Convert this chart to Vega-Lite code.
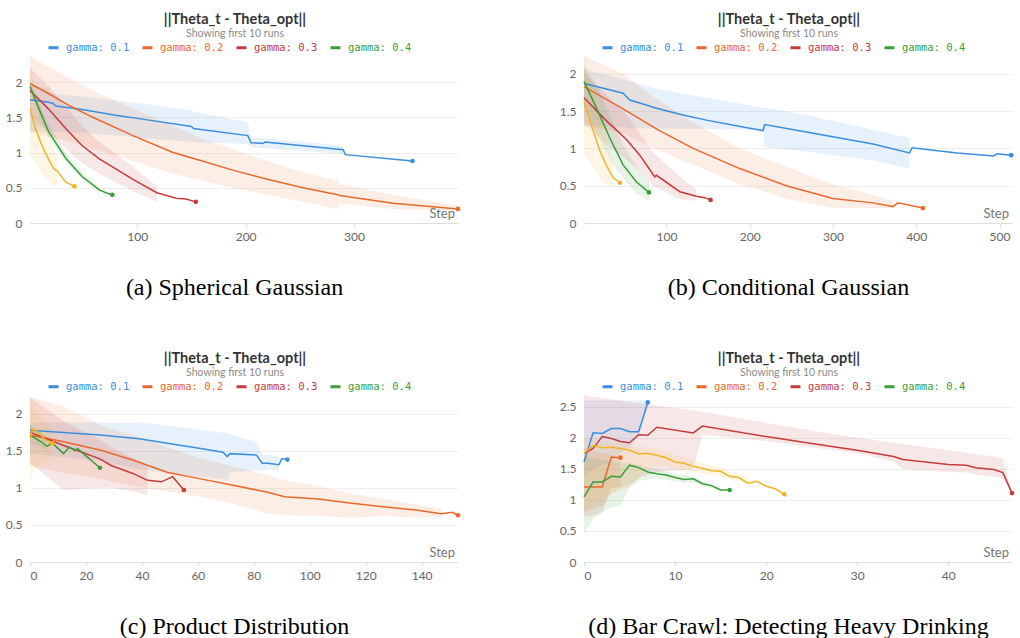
{
  "$schema": "https://vega.github.io/schema/vega-lite/v6.json",
  "background": "white",
  "padding": {"left": 5, "top": 12, "right": 5, "bottom": 0},
  "config": {
    "view": {"stroke": null},
    "title": {"font": "Lato", "fontSize": 14.5, "fontWeight": "bold", "color": "#333333", "subtitleFont": "Lato", "subtitleFontSize": 10.5, "subtitleColor": "#8a8a8a", "anchor": "middle", "offset": 1, "subtitlePadding": 1, "dx": -9},
    "axis": {"labelFont": "Lato", "labelFontSize": 12, "labelColor": "#666666", "gridColor": "#eeeeee", "domain": false, "ticks": false, "titleFont": "Liberation Serif", "titleFontSize": 24, "titleFontWeight": "normal", "titleColor": "#000000", "labelOverlap": false},
    "legend": {"labelFont": "DejaVu Sans Mono", "labelFontSize": 10.5}
  },
  "datasets": {
    "runs": [
      {"p":"a","g":"gamma: 0.1","x":1,"y":1.75,"lo":1.3,"hi":1.95},
      {"p":"a","g":"gamma: 0.1","x":15,"y":1.72,"lo":1.3,"hi":1.92},
      {"p":"a","g":"gamma: 0.1","x":22,"y":1.7,"lo":1.3,"hi":1.84},
      {"p":"a","g":"gamma: 0.1","x":25,"y":1.66,"lo":1.3,"hi":1.83},
      {"p":"a","g":"gamma: 0.1","x":49,"y":1.61,"lo":1.28,"hi":1.79},
      {"p":"a","g":"gamma: 0.1","x":80,"y":1.53,"lo":1.24,"hi":1.74},
      {"p":"a","g":"gamma: 0.1","x":111,"y":1.46,"lo":1.2,"hi":1.68},
      {"p":"a","g":"gamma: 0.1","x":150,"y":1.37,"lo":1.15,"hi":1.6},
      {"p":"a","g":"gamma: 0.1","x":152,"y":1.34,"lo":1.15,"hi":1.58},
      {"p":"a","g":"gamma: 0.1","x":202,"y":1.24,"lo":1.12,"hi":1.43},
      {"p":"a","g":"gamma: 0.1","x":205,"y":1.14,"lo":1.07,"hi":1.22},
      {"p":"a","g":"gamma: 0.1","x":216,"y":1.13,"lo":1.06,"hi":1.2},
      {"p":"a","g":"gamma: 0.1","x":218,"y":1.15,"lo":1.06,"hi":1.2},
      {"p":"a","g":"gamma: 0.1","x":290,"y":1.04,"lo":0.98,"hi":1.1},
      {"p":"a","g":"gamma: 0.1","x":292,"y":0.97},
      {"p":"a","g":"gamma: 0.1","x":354,"y":0.88},

      {"p":"a","g":"gamma: 0.2","x":1,"y":1.98,"lo":1.3,"hi":2.37},
      {"p":"a","g":"gamma: 0.2","x":20,"y":1.82,"lo":1.22,"hi":2.2},
      {"p":"a","g":"gamma: 0.2","x":38,"y":1.66,"lo":1.15,"hi":2.05},
      {"p":"a","g":"gamma: 0.2","x":59,"y":1.5,"lo":1.05,"hi":1.88},
      {"p":"a","g":"gamma: 0.2","x":96,"y":1.24,"lo":0.88,"hi":1.62},
      {"p":"a","g":"gamma: 0.2","x":133,"y":1.0,"lo":0.7,"hi":1.38},
      {"p":"a","g":"gamma: 0.2","x":160,"y":0.88,"lo":0.6,"hi":1.2},
      {"p":"a","g":"gamma: 0.2","x":188,"y":0.75,"lo":0.5,"hi":1.05},
      {"p":"a","g":"gamma: 0.2","x":220,"y":0.62,"lo":0.4,"hi":0.88},
      {"p":"a","g":"gamma: 0.2","x":253,"y":0.5,"lo":0.3,"hi":0.72},
      {"p":"a","g":"gamma: 0.2","x":285,"y":0.4,"lo":0.2,"hi":0.6},
      {"p":"a","g":"gamma: 0.2","x":287,"y":0.39,"lo":0.28,"hi":0.55},
      {"p":"a","g":"gamma: 0.2","x":336,"y":0.28,"lo":0.2,"hi":0.4},
      {"p":"a","g":"gamma: 0.2","x":396,"y":0.2,"lo":0.18,"hi":0.24},

      {"p":"a","g":"gamma: 0.3","x":1,"y":1.88,"lo":1.5,"hi":2.2},
      {"p":"a","g":"gamma: 0.3","x":18,"y":1.62,"lo":1.3,"hi":1.95},
      {"p":"a","g":"gamma: 0.3","x":34,"y":1.34,"lo":1.05,"hi":1.65},
      {"p":"a","g":"gamma: 0.3","x":49,"y":1.1,"lo":0.85,"hi":1.38},
      {"p":"a","g":"gamma: 0.3","x":65,"y":0.91,"lo":0.7,"hi":1.15},
      {"p":"a","g":"gamma: 0.3","x":96,"y":0.62,"lo":0.45,"hi":0.8},
      {"p":"a","g":"gamma: 0.3","x":118,"y":0.43,"lo":0.3,"hi":0.52},
      {"p":"a","g":"gamma: 0.3","x":136,"y":0.35},
      {"p":"a","g":"gamma: 0.3","x":145,"y":0.34},
      {"p":"a","g":"gamma: 0.3","x":154,"y":0.3},

      {"p":"a","g":"gamma: 0.4","x":1,"y":1.94,"lo":1.85,"hi":2.02},
      {"p":"a","g":"gamma: 0.4","x":9,"y":1.63,"lo":1.55,"hi":1.72},
      {"p":"a","g":"gamma: 0.4","x":18,"y":1.3,"lo":1.22,"hi":1.4},
      {"p":"a","g":"gamma: 0.4","x":34,"y":0.92,"lo":0.86,"hi":1.0},
      {"p":"a","g":"gamma: 0.4","x":49,"y":0.66,"lo":0.62,"hi":0.72},
      {"p":"a","g":"gamma: 0.4","x":65,"y":0.47,"lo":0.44,"hi":0.5},
      {"p":"a","g":"gamma: 0.4","x":71,"y":0.43},
      {"p":"a","g":"gamma: 0.4","x":77,"y":0.4},

      {"p":"a","g":"gamma: 0.5","x":1,"y":1.63,"lo":0.97,"hi":2.2},
      {"p":"a","g":"gamma: 0.5","x":6,"y":1.34,"lo":0.85,"hi":1.9},
      {"p":"a","g":"gamma: 0.5","x":12,"y":1.1,"lo":0.7,"hi":1.6},
      {"p":"a","g":"gamma: 0.5","x":18,"y":0.91,"lo":0.6,"hi":1.3},
      {"p":"a","g":"gamma: 0.5","x":23,"y":0.77,"lo":0.5,"hi":1.05},
      {"p":"a","g":"gamma: 0.5","x":26,"y":0.74,"lo":0.55,"hi":0.9},
      {"p":"a","g":"gamma: 0.5","x":34,"y":0.58},
      {"p":"a","g":"gamma: 0.5","x":42,"y":0.52},

      {"p":"b","g":"gamma: 0.1","x":1,"y":1.87,"lo":1.3,"hi":2.07},
      {"p":"b","g":"gamma: 0.1","x":16,"y":1.83,"lo":1.3,"hi":2.02},
      {"p":"b","g":"gamma: 0.1","x":48,"y":1.74,"lo":1.28,"hi":1.93},
      {"p":"b","g":"gamma: 0.1","x":56,"y":1.65,"lo":1.27,"hi":1.9},
      {"p":"b","g":"gamma: 0.1","x":68,"y":1.61,"lo":1.27,"hi":1.86},
      {"p":"b","g":"gamma: 0.1","x":88,"y":1.54,"lo":1.27,"hi":1.8},
      {"p":"b","g":"gamma: 0.1","x":120,"y":1.45,"lo":1.26,"hi":1.73},
      {"p":"b","g":"gamma: 0.1","x":148,"y":1.38,"lo":1.26,"hi":1.68},
      {"p":"b","g":"gamma: 0.1","x":200,"y":1.27,"lo":1.25,"hi":1.58},
      {"p":"b","g":"gamma: 0.1","x":216,"y":1.24,"lo":1.25,"hi":1.55},
      {"p":"b","g":"gamma: 0.1","x":218,"y":1.32,"lo":1.02,"hi":1.55},
      {"p":"b","g":"gamma: 0.1","x":268,"y":1.22,"lo":0.96,"hi":1.45},
      {"p":"b","g":"gamma: 0.1","x":348,"y":1.06,"lo":0.84,"hi":1.25},
      {"p":"b","g":"gamma: 0.1","x":392,"y":0.94,"lo":0.73,"hi":1.14},
      {"p":"b","g":"gamma: 0.1","x":395,"y":1.01},
      {"p":"b","g":"gamma: 0.1","x":449,"y":0.94},
      {"p":"b","g":"gamma: 0.1","x":493,"y":0.9},
      {"p":"b","g":"gamma: 0.1","x":497,"y":0.93},
      {"p":"b","g":"gamma: 0.1","x":514,"y":0.91},

      {"p":"b","g":"gamma: 0.2","x":1,"y":1.83,"lo":1.3,"hi":2.24},
      {"p":"b","g":"gamma: 0.2","x":48,"y":1.53,"lo":1.2,"hi":2.0},
      {"p":"b","g":"gamma: 0.2","x":90,"y":1.25,"lo":0.98,"hi":1.65},
      {"p":"b","g":"gamma: 0.2","x":132,"y":1.0,"lo":0.78,"hi":1.35},
      {"p":"b","g":"gamma: 0.2","x":188,"y":0.73,"lo":0.52,"hi":1.0},
      {"p":"b","g":"gamma: 0.2","x":244,"y":0.5,"lo":0.33,"hi":0.75},
      {"p":"b","g":"gamma: 0.2","x":300,"y":0.33,"lo":0.2,"hi":0.52},
      {"p":"b","g":"gamma: 0.2","x":348,"y":0.27,"lo":0.2,"hi":0.38},
      {"p":"b","g":"gamma: 0.2","x":372,"y":0.22,"lo":0.2,"hi":0.3},
      {"p":"b","g":"gamma: 0.2","x":378,"y":0.27},
      {"p":"b","g":"gamma: 0.2","x":408,"y":0.2},

      {"p":"b","g":"gamma: 0.3","x":1,"y":1.68,"lo":1.35,"hi":2.02},
      {"p":"b","g":"gamma: 0.3","x":28,"y":1.37,"lo":1.05,"hi":1.72},
      {"p":"b","g":"gamma: 0.3","x":52,"y":1.12,"lo":0.85,"hi":1.45},
      {"p":"b","g":"gamma: 0.3","x":68,"y":0.91,"lo":0.7,"hi":1.2},
      {"p":"b","g":"gamma: 0.3","x":84,"y":0.65,"lo":0.5,"hi":0.95},
      {"p":"b","g":"gamma: 0.3","x":86,"y":0.62},
      {"p":"b","g":"gamma: 0.3","x":88,"y":0.64},
      {"p":"b","g":"gamma: 0.3","x":116,"y":0.42,"lo":0.32,"hi":0.62},
      {"p":"b","g":"gamma: 0.3","x":136,"y":0.36,"lo":0.3,"hi":0.45},
      {"p":"b","g":"gamma: 0.3","x":146,"y":0.34},
      {"p":"b","g":"gamma: 0.3","x":153,"y":0.31},

      {"p":"b","g":"gamma: 0.4","x":1,"y":1.9,"lo":1.55,"hi":2.1},
      {"p":"b","g":"gamma: 0.4","x":16,"y":1.54,"lo":1.2,"hi":1.85},
      {"p":"b","g":"gamma: 0.4","x":32,"y":1.14,"lo":0.85,"hi":1.45},
      {"p":"b","g":"gamma: 0.4","x":48,"y":0.78,"lo":0.6,"hi":1.05},
      {"p":"b","g":"gamma: 0.4","x":64,"y":0.55,"lo":0.4,"hi":0.75},
      {"p":"b","g":"gamma: 0.4","x":79,"y":0.41,"lo":0.3,"hi":0.55},

      {"p":"b","g":"gamma: 0.5","x":1,"y":1.63,"lo":0.93,"hi":2.2},
      {"p":"b","g":"gamma: 0.5","x":12,"y":1.24,"lo":0.75,"hi":1.8},
      {"p":"b","g":"gamma: 0.5","x":20,"y":0.97,"lo":0.6,"hi":1.45},
      {"p":"b","g":"gamma: 0.5","x":28,"y":0.77,"lo":0.5,"hi":1.1},
      {"p":"b","g":"gamma: 0.5","x":36,"y":0.61,"lo":0.5,"hi":0.8},
      {"p":"b","g":"gamma: 0.5","x":44,"y":0.54},

      {"p":"c","g":"gamma: 0.1","x":0,"y":1.775,"lo":1.46,"hi":1.88},
      {"p":"c","g":"gamma: 0.1","x":25,"y":1.71,"lo":1.36,"hi":1.88},
      {"p":"c","g":"gamma: 0.1","x":39,"y":1.66,"lo":1.25,"hi":1.88},
      {"p":"c","g":"gamma: 0.1","x":49,"y":1.6,"lo":1.2,"hi":1.84},
      {"p":"c","g":"gamma: 0.1","x":61,"y":1.53,"lo":1.15,"hi":1.78},
      {"p":"c","g":"gamma: 0.1","x":69,"y":1.48,"lo":1.12,"hi":1.74},
      {"p":"c","g":"gamma: 0.1","x":70.5,"y":1.42,"lo":1.1,"hi":1.73},
      {"p":"c","g":"gamma: 0.1","x":71.5,"y":1.46,"lo":1.21,"hi":1.72},
      {"p":"c","g":"gamma: 0.1","x":81,"y":1.44,"lo":1.23,"hi":1.62},
      {"p":"c","g":"gamma: 0.1","x":83,"y":1.33,"lo":1.24,"hi":1.46},
      {"p":"c","g":"gamma: 0.1","x":85,"y":1.33,"lo":1.24,"hi":1.44},
      {"p":"c","g":"gamma: 0.1","x":89,"y":1.31,"lo":1.24,"hi":1.42},
      {"p":"c","g":"gamma: 0.1","x":90,"y":1.39},
      {"p":"c","g":"gamma: 0.1","x":92,"y":1.38},

      {"p":"c","g":"gamma: 0.2","x":0,"y":1.71,"lo":1.3,"hi":2.22},
      {"p":"c","g":"gamma: 0.2","x":12,"y":1.62,"lo":1.2,"hi":2.1},
      {"p":"c","g":"gamma: 0.2","x":25,"y":1.51,"lo":1.12,"hi":1.85},
      {"p":"c","g":"gamma: 0.2","x":37,"y":1.37,"lo":1.02,"hi":1.7},
      {"p":"c","g":"gamma: 0.2","x":49,"y":1.21,"lo":0.95,"hi":1.55},
      {"p":"c","g":"gamma: 0.2","x":61,"y":1.12,"lo":0.88,"hi":1.4},
      {"p":"c","g":"gamma: 0.2","x":73,"y":1.03,"lo":0.78,"hi":1.28},
      {"p":"c","g":"gamma: 0.2","x":85,"y":0.94,"lo":0.65,"hi":1.17},
      {"p":"c","g":"gamma: 0.2","x":91,"y":0.88,"lo":0.63,"hi":1.1},
      {"p":"c","g":"gamma: 0.2","x":103,"y":0.85,"lo":0.62,"hi":1.02},
      {"p":"c","g":"gamma: 0.2","x":115,"y":0.79,"lo":0.6,"hi":0.92},
      {"p":"c","g":"gamma: 0.2","x":127,"y":0.74,"lo":0.62,"hi":0.85},
      {"p":"c","g":"gamma: 0.2","x":138,"y":0.7,"lo":0.6,"hi":0.77},
      {"p":"c","g":"gamma: 0.2","x":147,"y":0.65,"lo":0.6,"hi":0.72},
      {"p":"c","g":"gamma: 0.2","x":151,"y":0.67},
      {"p":"c","g":"gamma: 0.2","x":153,"y":0.63},

      {"p":"c","g":"gamma: 0.3","x":0,"y":1.75,"lo":1.33,"hi":2.22},
      {"p":"c","g":"gamma: 0.3","x":12,"y":1.57,"lo":0.97,"hi":1.9},
      {"p":"c","g":"gamma: 0.3","x":25,"y":1.39,"lo":1.0,"hi":1.65},
      {"p":"c","g":"gamma: 0.3","x":29,"y":1.3,"lo":1.0,"hi":1.55},
      {"p":"c","g":"gamma: 0.3","x":37,"y":1.19,"lo":0.95,"hi":1.4},
      {"p":"c","g":"gamma: 0.3","x":42,"y":1.1,"lo":0.9,"hi":1.3},
      {"p":"c","g":"gamma: 0.3","x":47,"y":1.08},
      {"p":"c","g":"gamma: 0.3","x":51,"y":1.15},
      {"p":"c","g":"gamma: 0.3","x":55,"y":0.97},

      {"p":"c","g":"gamma: 0.4","x":0,"y":1.71,"lo":1.6,"hi":1.85},
      {"p":"c","g":"gamma: 0.4","x":4,"y":1.62,"lo":1.55,"hi":1.75},
      {"p":"c","g":"gamma: 0.4","x":6,"y":1.56,"lo":1.5,"hi":1.68},
      {"p":"c","g":"gamma: 0.4","x":8,"y":1.6},
      {"p":"c","g":"gamma: 0.4","x":12,"y":1.46},
      {"p":"c","g":"gamma: 0.4","x":14,"y":1.55},
      {"p":"c","g":"gamma: 0.4","x":16,"y":1.5},
      {"p":"c","g":"gamma: 0.4","x":17,"y":1.53},
      {"p":"c","g":"gamma: 0.4","x":20,"y":1.43},
      {"p":"c","g":"gamma: 0.4","x":25,"y":1.27},

      {"p":"c","g":"gamma: 0.5","x":0,"y":1.67,"lo":1.0,"hi":2.2},
      {"p":"c","g":"gamma: 0.5","x":1,"y":1.79,"lo":1.2,"hi":2.1},
      {"p":"c","g":"gamma: 0.5","x":3,"y":1.75,"lo":1.3,"hi":2.0},
      {"p":"c","g":"gamma: 0.5","x":5,"y":1.66,"lo":1.35,"hi":1.9},
      {"p":"c","g":"gamma: 0.5","x":8,"y":1.6,"lo":1.4,"hi":1.8},

      {"p":"d","g":"gamma: 0.1","x":0,"y":1.61,"lo":1.4,"hi":2.6},
      {"p":"d","g":"gamma: 0.1","x":1,"y":2.08,"lo":1.5,"hi":2.6},
      {"p":"d","g":"gamma: 0.1","x":2,"y":2.07,"lo":1.55,"hi":2.6},
      {"p":"d","g":"gamma: 0.1","x":3,"y":2.15,"lo":1.6,"hi":2.6},
      {"p":"d","g":"gamma: 0.1","x":4,"y":2.15,"lo":1.75,"hi":2.6},
      {"p":"d","g":"gamma: 0.1","x":5,"y":2.1,"lo":1.85,"hi":2.6},
      {"p":"d","g":"gamma: 0.1","x":6,"y":2.1,"lo":2.0,"hi":2.6},
      {"p":"d","g":"gamma: 0.1","x":7,"y":2.57,"lo":2.5,"hi":2.6},

      {"p":"d","g":"gamma: 0.2","x":0,"y":1.21,"lo":0.8,"hi":1.85},
      {"p":"d","g":"gamma: 0.2","x":1,"y":1.21,"lo":0.85,"hi":1.8},
      {"p":"d","g":"gamma: 0.2","x":2,"y":1.21,"lo":0.9,"hi":1.75},
      {"p":"d","g":"gamma: 0.2","x":3,"y":1.69,"lo":1.1,"hi":1.72},
      {"p":"d","g":"gamma: 0.2","x":4,"y":1.68,"lo":1.2,"hi":1.7},

      {"p":"d","g":"gamma: 0.3","x":0,"y":1.75,"lo":0.73,"hi":2.69},
      {"p":"d","g":"gamma: 0.3","x":1,"y":1.83,"lo":0.75,"hi":2.66},
      {"p":"d","g":"gamma: 0.3","x":2,"y":2.02,"lo":0.8,"hi":2.64},
      {"p":"d","g":"gamma: 0.3","x":3,"y":1.99,"lo":1.2,"hi":2.62},
      {"p":"d","g":"gamma: 0.3","x":4,"y":1.94,"lo":1.2,"hi":2.6},
      {"p":"d","g":"gamma: 0.3","x":5,"y":1.92,"lo":1.25,"hi":2.58},
      {"p":"d","g":"gamma: 0.3","x":6,"y":2.05,"lo":1.35,"hi":2.56},
      {"p":"d","g":"gamma: 0.3","x":7,"y":2.04,"lo":1.4,"hi":2.54},
      {"p":"d","g":"gamma: 0.3","x":8,"y":2.17,"lo":1.45,"hi":2.52},
      {"p":"d","g":"gamma: 0.3","x":12,"y":2.08,"lo":1.5,"hi":2.44},
      {"p":"d","g":"gamma: 0.3","x":13,"y":2.19,"lo":2.05,"hi":2.42},
      {"p":"d","g":"gamma: 0.3","x":20,"y":2.02,"lo":1.95,"hi":2.24},
      {"p":"d","g":"gamma: 0.3","x":25,"y":1.91,"lo":1.85,"hi":2.12},
      {"p":"d","g":"gamma: 0.3","x":30,"y":1.8,"lo":1.75,"hi":2.0},
      {"p":"d","g":"gamma: 0.3","x":34,"y":1.7,"lo":1.62,"hi":1.92},
      {"p":"d","g":"gamma: 0.3","x":35,"y":1.65,"lo":1.5,"hi":1.9},
      {"p":"d","g":"gamma: 0.3","x":40,"y":1.57,"lo":1.45,"hi":1.8},
      {"p":"d","g":"gamma: 0.3","x":42,"y":1.56,"lo":1.44,"hi":1.76},
      {"p":"d","g":"gamma: 0.3","x":43,"y":1.52,"lo":1.4,"hi":1.74},
      {"p":"d","g":"gamma: 0.3","x":45,"y":1.49,"lo":1.38,"hi":1.7},
      {"p":"d","g":"gamma: 0.3","x":46,"y":1.44,"lo":1.35,"hi":1.67},
      {"p":"d","g":"gamma: 0.3","x":47,"y":1.11,"lo":1.1,"hi":1.12},

      {"p":"d","g":"gamma: 0.4","x":0,"y":1.05,"lo":0.45,"hi":1.7},
      {"p":"d","g":"gamma: 0.4","x":1,"y":1.29,"lo":0.7,"hi":1.68},
      {"p":"d","g":"gamma: 0.4","x":2,"y":1.29,"lo":0.8,"hi":1.65},
      {"p":"d","g":"gamma: 0.4","x":3,"y":1.38,"lo":0.88,"hi":1.62},
      {"p":"d","g":"gamma: 0.4","x":4,"y":1.37,"lo":0.9,"hi":1.6},
      {"p":"d","g":"gamma: 0.4","x":5,"y":1.56,"lo":1.2,"hi":1.6},
      {"p":"d","g":"gamma: 0.4","x":6,"y":1.52,"lo":1.3,"hi":1.56},
      {"p":"d","g":"gamma: 0.4","x":7,"y":1.45,"lo":1.33,"hi":1.52},
      {"p":"d","g":"gamma: 0.4","x":8,"y":1.42,"lo":1.35,"hi":1.5},
      {"p":"d","g":"gamma: 0.4","x":9,"y":1.4,"lo":1.33,"hi":1.46},
      {"p":"d","g":"gamma: 0.4","x":10,"y":1.36,"lo":1.3,"hi":1.42},
      {"p":"d","g":"gamma: 0.4","x":11,"y":1.33,"lo":1.28,"hi":1.4},
      {"p":"d","g":"gamma: 0.4","x":12,"y":1.34,"lo":1.28,"hi":1.38},
      {"p":"d","g":"gamma: 0.4","x":13,"y":1.26,"lo":1.22,"hi":1.3},
      {"p":"d","g":"gamma: 0.4","x":14,"y":1.23,"lo":1.19,"hi":1.26},
      {"p":"d","g":"gamma: 0.4","x":15,"y":1.16,"lo":1.15,"hi":1.2},
      {"p":"d","g":"gamma: 0.4","x":16,"y":1.16},

      {"p":"d","g":"gamma: 0.5","x":0,"y":1.75,"lo":0.85,"hi":2.0},
      {"p":"d","g":"gamma: 0.5","x":1,"y":1.88,"lo":0.95,"hi":1.98},
      {"p":"d","g":"gamma: 0.5","x":2,"y":1.84,"lo":1.05,"hi":1.95},
      {"p":"d","g":"gamma: 0.5","x":3,"y":1.85,"lo":1.1,"hi":1.93},
      {"p":"d","g":"gamma: 0.5","x":4,"y":1.83,"lo":1.15,"hi":1.92},
      {"p":"d","g":"gamma: 0.5","x":5,"y":1.8,"lo":1.2,"hi":1.9},
      {"p":"d","g":"gamma: 0.5","x":6,"y":1.74,"lo":1.35,"hi":1.85},
      {"p":"d","g":"gamma: 0.5","x":7,"y":1.75,"lo":1.5,"hi":1.85},
      {"p":"d","g":"gamma: 0.5","x":8,"y":1.72,"lo":1.55,"hi":1.82},
      {"p":"d","g":"gamma: 0.5","x":9,"y":1.68,"lo":1.55,"hi":1.78},
      {"p":"d","g":"gamma: 0.5","x":10,"y":1.61,"lo":1.5,"hi":1.72},
      {"p":"d","g":"gamma: 0.5","x":11,"y":1.59,"lo":1.48,"hi":1.68},
      {"p":"d","g":"gamma: 0.5","x":12,"y":1.54,"lo":1.45,"hi":1.64},
      {"p":"d","g":"gamma: 0.5","x":13,"y":1.51,"lo":1.42,"hi":1.6},
      {"p":"d","g":"gamma: 0.5","x":14,"y":1.47,"lo":1.4,"hi":1.56},
      {"p":"d","g":"gamma: 0.5","x":15,"y":1.46,"lo":1.38,"hi":1.52},
      {"p":"d","g":"gamma: 0.5","x":16,"y":1.38,"lo":1.33,"hi":1.46},
      {"p":"d","g":"gamma: 0.5","x":17,"y":1.36,"lo":1.3,"hi":1.42},
      {"p":"d","g":"gamma: 0.5","x":18,"y":1.27,"lo":1.25,"hi":1.38},
      {"p":"d","g":"gamma: 0.5","x":19,"y":1.3},
      {"p":"d","g":"gamma: 0.5","x":20,"y":1.22},
      {"p":"d","g":"gamma: 0.5","x":21,"y":1.18},
      {"p":"d","g":"gamma: 0.5","x":22,"y":1.09}
    ]
  },
  "spacing": 52,
  "resolve": {"scale": {"color": "independent"}, "legend": {"color": "independent"}},
  "vconcat": [
    {
      "spacing": 98,
      "resolve": {"scale": {"color": "independent"}, "legend": {"color": "independent"}},
      "hconcat": [
        {
          "width": 428, "height": 167,
          "title": {"text": "||Theta_t - Theta_opt||", "subtitle": "Showing first 10 runs"},
          "layer": [
            {"data": {"name": "runs"}, "transform": [{"filter": "datum.p == 'a' && isValid(datum.lo)"}], "mark": {"type": "area", "opacity": 0.12, "clip": true}, "encoding": {
              "x": {"field": "x", "type": "quantitative", "scale": {"domain": [1, 396], "nice": false, "zero": false}, "axis": {"title": "(a) Spherical Gaussian", "titlePadding": 33, "titleX": 204, "values": [100, 200, 300], "grid": false, "domain": true, "domainColor": "#dddddd", "ticks": true, "tickColor": "#dddddd", "tickSize": 4, "labelPadding": 4}},
              "y": {"field": "lo", "type": "quantitative", "scale": {"domain": [0, 2.37], "nice": false}, "axis": {"title": null, "values": [0, 0.5, 1, 1.5, 2], "format": "~g", "grid": true, "labelPadding": 8}},
              "y2": {"field": "hi"},
              "color": {"field": "g", "type": "nominal", "scale": {"domain": ["gamma: 0.1", "gamma: 0.2", "gamma: 0.3", "gamma: 0.4", "gamma: 0.5"], "range": ["#3b8ede", "#e8692c", "#c43c3c", "#3a9e3a", "#f0b428"]}, "legend": {"orient": "none", "legendX": 17, "legendY": -15, "direction": "horizontal", "title": null, "values": ["gamma: 0.1", "gamma: 0.2", "gamma: 0.3", "gamma: 0.4"], "symbolType": "stroke", "symbolStrokeWidth": 3, "symbolSize": 100, "symbolOpacity": 1, "columnPadding": 6, "labelOffset": 6, "encode": {"labels": {"update": {"fill": {"signal": "datum.value == 'gamma: 0.1' ? '#3b8ede' : datum.value == 'gamma: 0.2' ? '#e8692c' : datum.value == 'gamma: 0.3' ? '#c43c3c' : '#3a9e3a'"}}}}}}}},
            {"data": {"name": "runs"}, "transform": [{"filter": "datum.p == 'a'"}], "mark": {"type": "line", "strokeWidth": 1.5}, "encoding": {"x": {"field": "x", "type": "quantitative"}, "y": {"field": "y", "type": "quantitative", "axis": {"title": null, "values": [0, 0.5, 1, 1.5, 2], "format": "~g", "grid": true, "labelPadding": 8}}, "color": {"field": "g", "type": "nominal"}}},
            {"data": {"name": "runs"}, "transform": [{"filter": "datum.p == 'a'"}, {"joinaggregate": [{"op": "max", "field": "x", "as": "mx"}], "groupby": ["g"]}, {"filter": "datum.x == datum.mx"}], "mark": {"type": "point", "filled": true, "size": 22, "opacity": 1}, "encoding": {"x": {"field": "x", "type": "quantitative"}, "y": {"field": "y", "type": "quantitative", "axis": {"title": null, "values": [0, 0.5, 1, 1.5, 2], "format": "~g", "grid": true, "labelPadding": 8}}, "color": {"field": "g", "type": "nominal"}}},
            {"data": {"values": [{"t": "Step", "sx": 396, "sy": 0}]}, "mark": {"type": "text", "align": "right", "baseline": "bottom", "dx": -3, "dy": -2, "font": "Lato", "fontSize": 13, "fill": "#777777"}, "encoding": {"x": {"field": "sx", "type": "quantitative"}, "y": {"field": "sy", "type": "quantitative", "axis": {"title": null, "values": [0, 0.5, 1, 1.5, 2], "format": "~g", "grid": true, "labelPadding": 8}}, "text": {"field": "t"}}}
          ]
        },
        {
          "width": 428, "height": 167,
          "title": {"text": "||Theta_t - Theta_opt||", "subtitle": "Showing first 10 runs"},
          "layer": [
            {"data": {"name": "runs"}, "transform": [{"filter": "datum.p == 'b' && isValid(datum.lo)"}], "mark": {"type": "area", "opacity": 0.12, "clip": true}, "encoding": {
              "x": {"field": "x", "type": "quantitative", "scale": {"domain": [1, 515], "nice": false, "zero": false}, "axis": {"title": "(b) Conditional Gaussian", "titlePadding": 33, "titleX": 204, "values": [100, 200, 300, 400, 500], "grid": false, "domain": true, "domainColor": "#dddddd", "ticks": true, "tickColor": "#dddddd", "tickSize": 4, "labelPadding": 4}},
              "y": {"field": "lo", "type": "quantitative", "scale": {"domain": [0, 2.24], "nice": false}, "axis": {"title": null, "values": [0, 0.5, 1, 1.5, 2], "format": "~g", "grid": true, "labelPadding": 8}},
              "y2": {"field": "hi"},
              "color": {"field": "g", "type": "nominal", "scale": {"domain": ["gamma: 0.1", "gamma: 0.2", "gamma: 0.3", "gamma: 0.4", "gamma: 0.5"], "range": ["#3b8ede", "#e8692c", "#c43c3c", "#3a9e3a", "#f0b428"]}, "legend": {"orient": "none", "legendX": 17, "legendY": -15, "direction": "horizontal", "title": null, "values": ["gamma: 0.1", "gamma: 0.2", "gamma: 0.3", "gamma: 0.4"], "symbolType": "stroke", "symbolStrokeWidth": 3, "symbolSize": 100, "symbolOpacity": 1, "columnPadding": 6, "labelOffset": 6, "encode": {"labels": {"update": {"fill": {"signal": "datum.value == 'gamma: 0.1' ? '#3b8ede' : datum.value == 'gamma: 0.2' ? '#e8692c' : datum.value == 'gamma: 0.3' ? '#c43c3c' : '#3a9e3a'"}}}}}}}},
            {"data": {"name": "runs"}, "transform": [{"filter": "datum.p == 'b'"}], "mark": {"type": "line", "strokeWidth": 1.5}, "encoding": {"x": {"field": "x", "type": "quantitative"}, "y": {"field": "y", "type": "quantitative", "axis": {"title": null, "values": [0, 0.5, 1, 1.5, 2], "format": "~g", "grid": true, "labelPadding": 8}}, "color": {"field": "g", "type": "nominal"}}},
            {"data": {"name": "runs"}, "transform": [{"filter": "datum.p == 'b'"}, {"joinaggregate": [{"op": "max", "field": "x", "as": "mx"}], "groupby": ["g"]}, {"filter": "datum.x == datum.mx"}], "mark": {"type": "point", "filled": true, "size": 22, "opacity": 1}, "encoding": {"x": {"field": "x", "type": "quantitative"}, "y": {"field": "y", "type": "quantitative", "axis": {"title": null, "values": [0, 0.5, 1, 1.5, 2], "format": "~g", "grid": true, "labelPadding": 8}}, "color": {"field": "g", "type": "nominal"}}},
            {"data": {"values": [{"t": "Step", "sx": 515, "sy": 0}]}, "mark": {"type": "text", "align": "right", "baseline": "bottom", "dx": -3, "dy": -2, "font": "Lato", "fontSize": 13, "fill": "#777777"}, "encoding": {"x": {"field": "sx", "type": "quantitative"}, "y": {"field": "sy", "type": "quantitative", "axis": {"title": null, "values": [0, 0.5, 1, 1.5, 2], "format": "~g", "grid": true, "labelPadding": 8}}, "text": {"field": "t"}}}
          ]
        }
      ]
    },
    {
      "spacing": 98,
      "resolve": {"scale": {"color": "independent"}, "legend": {"color": "independent"}},
      "hconcat": [
        {
          "width": 428, "height": 167,
          "title": {"text": "||Theta_t - Theta_opt||", "subtitle": "Showing first 10 runs"},
          "layer": [
            {"data": {"name": "runs"}, "transform": [{"filter": "datum.p == 'c' && isValid(datum.lo)"}], "mark": {"type": "area", "opacity": 0.12, "clip": true}, "encoding": {
              "x": {"field": "x", "type": "quantitative", "scale": {"domain": [0, 153], "nice": false, "zero": false}, "axis": {"title": "(c) Product Distribution", "titlePadding": 33, "titleX": 204, "values": [0, 20, 40, 60, 80, 100, 120, 140], "grid": false, "domain": true, "domainColor": "#dddddd", "ticks": true, "tickColor": "#dddddd", "tickSize": 4, "labelPadding": 4}},
              "y": {"field": "lo", "type": "quantitative", "scale": {"domain": [0, 2.25], "nice": false}, "axis": {"title": null, "values": [0, 0.5, 1, 1.5, 2], "format": "~g", "grid": true, "labelPadding": 8}},
              "y2": {"field": "hi"},
              "color": {"field": "g", "type": "nominal", "scale": {"domain": ["gamma: 0.1", "gamma: 0.2", "gamma: 0.3", "gamma: 0.4", "gamma: 0.5"], "range": ["#3b8ede", "#e8692c", "#c43c3c", "#3a9e3a", "#f0b428"]}, "legend": {"orient": "none", "legendX": 17, "legendY": -15, "direction": "horizontal", "title": null, "values": ["gamma: 0.1", "gamma: 0.2", "gamma: 0.3", "gamma: 0.4"], "symbolType": "stroke", "symbolStrokeWidth": 3, "symbolSize": 100, "symbolOpacity": 1, "columnPadding": 6, "labelOffset": 6, "encode": {"labels": {"update": {"fill": {"signal": "datum.value == 'gamma: 0.1' ? '#3b8ede' : datum.value == 'gamma: 0.2' ? '#e8692c' : datum.value == 'gamma: 0.3' ? '#c43c3c' : '#3a9e3a'"}}}}}}}},
            {"data": {"name": "runs"}, "transform": [{"filter": "datum.p == 'c'"}], "mark": {"type": "line", "strokeWidth": 1.5}, "encoding": {"x": {"field": "x", "type": "quantitative"}, "y": {"field": "y", "type": "quantitative", "axis": {"title": null, "values": [0, 0.5, 1, 1.5, 2], "format": "~g", "grid": true, "labelPadding": 8}}, "color": {"field": "g", "type": "nominal"}}},
            {"data": {"name": "runs"}, "transform": [{"filter": "datum.p == 'c'"}, {"joinaggregate": [{"op": "max", "field": "x", "as": "mx"}], "groupby": ["g"]}, {"filter": "datum.x == datum.mx"}], "mark": {"type": "point", "filled": true, "size": 22, "opacity": 1}, "encoding": {"x": {"field": "x", "type": "quantitative"}, "y": {"field": "y", "type": "quantitative", "axis": {"title": null, "values": [0, 0.5, 1, 1.5, 2], "format": "~g", "grid": true, "labelPadding": 8}}, "color": {"field": "g", "type": "nominal"}}},
            {"data": {"values": [{"t": "Step", "sx": 153, "sy": 0}]}, "mark": {"type": "text", "align": "right", "baseline": "bottom", "dx": -3, "dy": -2, "font": "Lato", "fontSize": 13, "fill": "#777777"}, "encoding": {"x": {"field": "sx", "type": "quantitative"}, "y": {"field": "sy", "type": "quantitative", "axis": {"title": null, "values": [0, 0.5, 1, 1.5, 2], "format": "~g", "grid": true, "labelPadding": 8}}, "text": {"field": "t"}}}
          ]
        },
        {
          "width": 428, "height": 167,
          "title": {"text": "||Theta_t - Theta_opt||", "subtitle": "Showing first 10 runs"},
          "layer": [
            {"data": {"name": "runs"}, "transform": [{"filter": "datum.p == 'd' && isValid(datum.lo)"}], "mark": {"type": "area", "opacity": 0.12, "clip": true}, "encoding": {
              "x": {"field": "x", "type": "quantitative", "scale": {"domain": [0, 47], "nice": false, "zero": false}, "axis": {"title": "(d) Bar Crawl: Detecting Heavy Drinking", "titlePadding": 33, "titleX": 204, "values": [0, 10, 20, 30, 40], "grid": false, "domain": true, "domainColor": "#dddddd", "ticks": true, "tickColor": "#dddddd", "tickSize": 4, "labelPadding": 4}},
              "y": {"field": "lo", "type": "quantitative", "scale": {"domain": [0, 2.69], "nice": false}, "axis": {"title": null, "values": [0, 0.5, 1, 1.5, 2, 2.5], "format": "~g", "grid": true, "labelPadding": 8}},
              "y2": {"field": "hi"},
              "color": {"field": "g", "type": "nominal", "scale": {"domain": ["gamma: 0.1", "gamma: 0.2", "gamma: 0.3", "gamma: 0.4", "gamma: 0.5"], "range": ["#3b8ede", "#e8692c", "#c43c3c", "#3a9e3a", "#f0b428"]}, "legend": {"orient": "none", "legendX": 17, "legendY": -15, "direction": "horizontal", "title": null, "values": ["gamma: 0.1", "gamma: 0.2", "gamma: 0.3", "gamma: 0.4"], "symbolType": "stroke", "symbolStrokeWidth": 3, "symbolSize": 100, "symbolOpacity": 1, "columnPadding": 6, "labelOffset": 6, "encode": {"labels": {"update": {"fill": {"signal": "datum.value == 'gamma: 0.1' ? '#3b8ede' : datum.value == 'gamma: 0.2' ? '#e8692c' : datum.value == 'gamma: 0.3' ? '#c43c3c' : '#3a9e3a'"}}}}}}}},
            {"data": {"name": "runs"}, "transform": [{"filter": "datum.p == 'd'"}], "mark": {"type": "line", "strokeWidth": 1.5}, "encoding": {"x": {"field": "x", "type": "quantitative"}, "y": {"field": "y", "type": "quantitative", "axis": {"title": null, "values": [0, 0.5, 1, 1.5, 2, 2.5], "format": "~g", "grid": true, "labelPadding": 8}}, "color": {"field": "g", "type": "nominal"}}},
            {"data": {"name": "runs"}, "transform": [{"filter": "datum.p == 'd'"}, {"joinaggregate": [{"op": "max", "field": "x", "as": "mx"}], "groupby": ["g"]}, {"filter": "datum.x == datum.mx"}], "mark": {"type": "point", "filled": true, "size": 22, "opacity": 1}, "encoding": {"x": {"field": "x", "type": "quantitative"}, "y": {"field": "y", "type": "quantitative", "axis": {"title": null, "values": [0, 0.5, 1, 1.5, 2, 2.5], "format": "~g", "grid": true, "labelPadding": 8}}, "color": {"field": "g", "type": "nominal"}}},
            {"data": {"values": [{"t": "Step", "sx": 47, "sy": 0}]}, "mark": {"type": "text", "align": "right", "baseline": "bottom", "dx": -3, "dy": -2, "font": "Lato", "fontSize": 13, "fill": "#777777"}, "encoding": {"x": {"field": "sx", "type": "quantitative"}, "y": {"field": "sy", "type": "quantitative", "axis": {"title": null, "values": [0, 0.5, 1, 1.5, 2, 2.5], "format": "~g", "grid": true, "labelPadding": 8}}, "text": {"field": "t"}}}
          ]
        }
      ]
    }
  ]
}
